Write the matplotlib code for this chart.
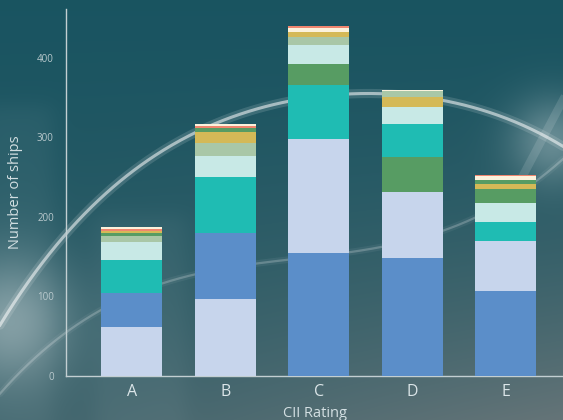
import numpy as np
import matplotlib.pyplot as plt

ratings = ["A", "B", "C", "D", "E"]

# ship counts per rating, one list per stacked series
light_blue = [62, 97, 143, 83, 63]
mid_blue = [42, 82.5, 155, 148.5, 107]
teal = [41.5, 70.5, 68, 41.5, 24]
pale_cyan = [22.5, 26.5, 24, 21, 23.8]
green = [0, 0, 26.5, 44, 17.5]
sage = [8.5, 15.7, 9.5, 6.6, 0]
gold = [2.8, 14.6, 6, 13, 6.3]
green_small = [3, 4.3, 0, 0, 5.3]
salmon = [2.6, 3.2, 2.8, 0, 0.6]
cream = [2.2, 1.8, 5.4, 1.8, 5]

series = [light_blue, mid_blue, teal, pale_cyan, green, sage, gold,
          green_small, salmon, cream]
colors = ["#c7d5ec", "#5b8ec9", "#1fbcb3", "#c8e9e6", "#579c63", "#a9c7a7",
          "#d4b957", "#579c63", "#f0866f", "#fbf2dc"]

W, H = 563, 420
fig = plt.figure(figsize=(W / 100, H / 100), dpi=100)

# --- backdrop: teal photo-like gradient with soft light streaks ---
bg = fig.add_axes([0, 0, 1, 1])
bg.set_xlim(0, W)
bg.set_ylim(H, 0)
bg.axis("off")

yy, xx = np.mgrid[0:H, 0:W].astype(float)
fy, fx = yy / H, xx / W
top = np.array([0.10, 0.33, 0.38])
low = np.array([0.43, 0.47, 0.48])
w = np.clip(0.15 * fy + 0.75 * fy ** 2 * (0.35 + 0.65 * fx), 0, 1)[..., None]
img = top * (1 - w) + low * w


def soft_box(x0, x1, y0, y1, amt, edge=6.0):
    mx = 1 / (1 + np.exp(-(xx - x0) / edge)) * 1 / (1 + np.exp((xx - x1) / edge))
    my = 1 / (1 + np.exp(-(yy - y0) / edge)) * 1 / (1 + np.exp((yy - y1) / edge))
    return (mx * my * amt)[..., None]


def glow(cx, cy, r, amt):
    return (amt * np.exp(-((xx - cx) ** 2 + (yy - cy) ** 2) / (2 * r ** 2)))[..., None]


light = soft_box(-20, 52, 105, 440, 0.05) + soft_box(95, 185, 215, 440, 0.05)
light += glow(10, 320, 45, 0.35) + glow(552, 140, 30, 0.30)
img = img + (1 - img) * np.clip(light, 0, 1)
bg.imshow(np.clip(img, 0, 1), extent=[0, W, H, 0], aspect="auto", zorder=0)

# light arcs behind the chart
arc1 = np.array([[0, 325], [67, 233], [194, 133], [288, 101], [355, 95],
                 [443, 99], [520, 125], [563, 146]])
arc2 = np.array([[0, 393], [108, 310], [172, 276], [269, 262], [381, 250],
                 [476, 215], [530, 185], [563, 160]])
for pts, lw, a in [(arc1, 2.2, 0.55), (arc2, 1.6, 0.22)]:
    p = np.polyfit(pts[:, 0], pts[:, 1], 4)
    xs = np.linspace(0, W, 400)
    ys = np.polyval(p, xs)
    bg.plot(xs, ys, color="white", lw=lw * 3, alpha=a * 0.25, zorder=1,
            solid_capstyle="round")
    bg.plot(xs, ys, color="white", lw=lw, alpha=a, zorder=2)
bg.plot([563, 510], [100, 200], color="white", lw=6, alpha=0.12, zorder=2)

# --- stacked bars ---
ax = fig.add_axes([66.4 / W, 0.105, 1 - 66.4 / W, 0.873])
ax.patch.set_alpha(0)

x = np.arange(len(ratings))
for i in range(len(ratings)):
    # largest series sits at the bottom of each stack
    order = sorted(range(len(series)), key=lambda k: -series[k][i])
    bottom = 0
    for k in order:
        v = series[k][i]
        if v <= 0:
            continue
        ax.bar(x[i], v, bottom=bottom, width=0.652, color=colors[k],
               edgecolor="none", zorder=3)
        bottom += v

ax.set_xlim(-0.70, 4.61)
ax.set_ylim(0, 461)
ax.set_xticks(x)
ax.set_xticklabels(ratings)
ax.set_yticks([0, 100, 200, 300, 400])
ax.tick_params(axis="x", length=0, pad=6, labelsize=11.5, labelcolor="#dbe5e8")
ax.tick_params(axis="y", length=0, pad=9, labelsize=7, labelcolor="#b9c9cd")
for lbl in ax.get_xticklabels() + ax.get_yticklabels():
    lbl.set_family("Open Sans")

for side in ["top", "right"]:
    ax.spines[side].set_visible(False)
for side in ["left", "bottom"]:
    ax.spines[side].set_color("#c3cfd2")
    ax.spines[side].set_linewidth(1.0)

ax.set_ylabel("Number of ships", fontsize=10.5, color="#d3dfe2",
              family="Open Sans", labelpad=10)
ax.set_xlabel("CII Rating", fontsize=10.5, color="#d3dfe2",
              family="Open Sans", labelpad=4)

fig.savefig("out.png", dpi=100)
